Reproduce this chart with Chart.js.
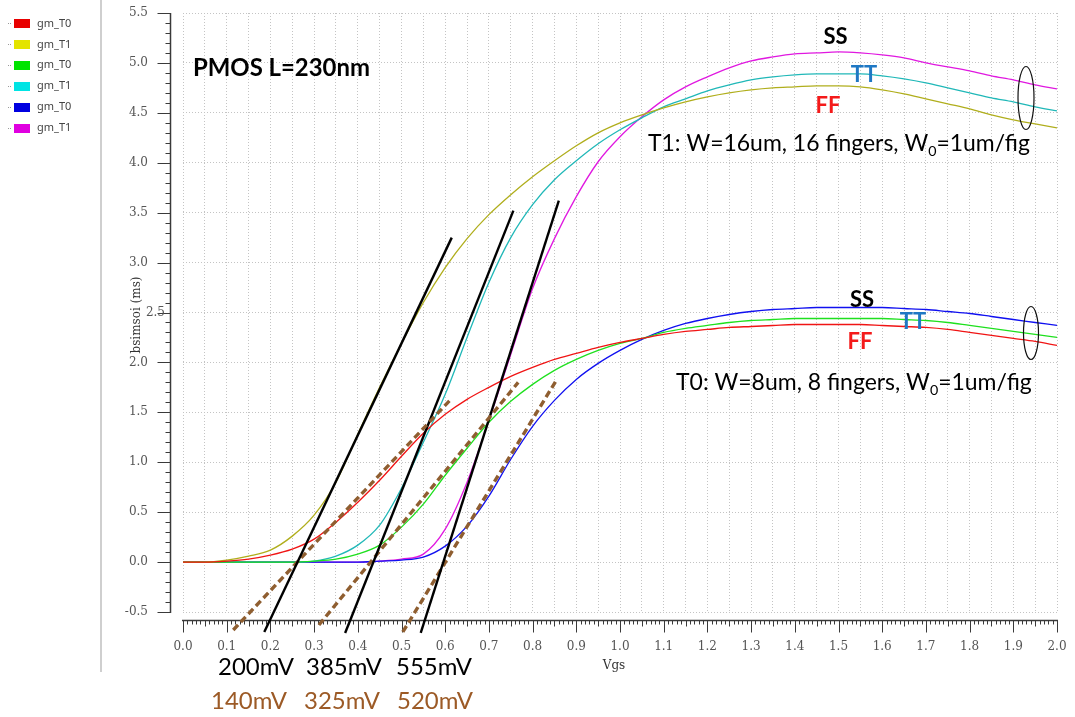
<!DOCTYPE html>
<html><head><meta charset="utf-8">
<script src="https://cdn.jsdelivr.net/npm/chart.js@4.4.0/dist/chart.umd.min.js"></script>
<style>html,body{margin:0;padding:0;background:#fff;overflow:hidden}</style>
</head><body>
<canvas id="c" width="1075" height="717"></canvas>
<script>
// ---- data ----
const vgs = [0.00,0.05,0.10,0.15,0.20,0.25,0.30,0.35,0.40,0.45,0.50,0.55,0.60,0.65,0.70,0.75,0.80,0.85,0.90,0.95,1.00,1.05,1.10,1.15,1.20,1.25,1.30,1.35,1.40,1.45,1.50,1.55,1.60,1.65,1.70,1.75,1.80,1.85,1.90,1.95,2.00];
const gmT0_FF = [0,0,0.01,0.03,0.07,0.13,0.23,0.40,0.60,0.82,1.06,1.29,1.48,1.63,1.75,1.86,1.95,2.03,2.09,2.15,2.20,2.24,2.28,2.31,2.33,2.35,2.36,2.37,2.38,2.38,2.38,2.38,2.37,2.36,2.35,2.33,2.30,2.27,2.24,2.21,2.17];
const gmT1_FF = [0,0,0.02,0.06,0.12,0.26,0.47,0.80,1.28,1.75,2.19,2.60,2.95,3.24,3.48,3.68,3.86,4.02,4.17,4.30,4.40,4.48,4.55,4.61,4.66,4.70,4.73,4.75,4.76,4.77,4.77,4.76,4.73,4.69,4.64,4.59,4.54,4.48,4.43,4.39,4.35];
const gmT0_TT = [0,0,0,0,0,0,0.01,0.03,0.08,0.17,0.35,0.58,0.87,1.14,1.40,1.61,1.78,1.92,2.03,2.12,2.19,2.24,2.30,2.34,2.37,2.40,2.42,2.43,2.44,2.44,2.44,2.44,2.44,2.43,2.42,2.40,2.37,2.34,2.31,2.28,2.25];
const gmT1_TT = [0,0,0,0,0,0,0.01,0.06,0.17,0.37,0.74,1.20,1.68,2.25,2.80,3.25,3.58,3.83,4.02,4.19,4.33,4.45,4.56,4.64,4.72,4.78,4.83,4.86,4.88,4.89,4.89,4.89,4.87,4.84,4.80,4.75,4.70,4.65,4.61,4.56,4.52];
const gmT0_SS = [0,0,0,0,0,0,0,0,0,0.01,0.02,0.05,0.16,0.36,0.66,1.03,1.36,1.62,1.83,1.99,2.12,2.23,2.32,2.39,2.44,2.48,2.51,2.53,2.54,2.55,2.55,2.55,2.55,2.54,2.53,2.51,2.49,2.46,2.43,2.40,2.37];
const gmT1_SS = [0,0,0,0,0,0,0,0,0,0.01,0.03,0.08,0.33,0.80,1.42,2.08,2.74,3.24,3.66,4.01,4.26,4.46,4.63,4.76,4.86,4.95,5.02,5.06,5.09,5.10,5.11,5.10,5.08,5.05,5.00,4.96,4.92,4.87,4.83,4.78,4.74];
const seriesNames = ['gm_T0','gm_T1','gm_T0','gm_T1','gm_T0','gm_T1'];
const seriesData = [gmT0_FF, gmT1_FF, gmT0_TT, gmT1_TT, gmT0_SS, gmT1_SS];
const lineColors = ['#f01414','#b0ae1c','#1ee01e','#20b8b8','#1010f0','#e018e0'];
const legendColors = ['#e80000','#e4e400','#00e400','#00e4e4','#0000e0','#e000e0'];

// tangent lines (Vgs endpoints, gm endpoints)
const solidTanX = [[0.186,0.615],[0.371,0.756],[0.544,0.860]];
const solidTanY = [[-0.70,3.25],[-0.71,3.52],[-0.71,3.62]];
const dashTanX  = [[0.115,0.615],[0.311,0.767],[0.503,0.857]];
const dashTanY  = [[-0.68,1.64],[-0.63,1.80],[-0.70,1.84]];
const solidVthLabels = ['200mV','385mV','555mV'];
const dashVthLabels  = ['140mV','325mV','520mV'];

const xMin = 0, xMax = 2.0, xStep = 0.05;
const yMin = -0.5, yMax = 5.5, yStep = 0.5;

// ---- datasets ----
const datasets = [];
for (let k = 0; k < 3; k++) {
  datasets.push({label:'tan'+k, data: solidTanX[k].map((x,i)=>({x, y: solidTanY[k][i]})),
    borderColor:'#000', borderWidth:2.4, pointRadius:0, clip:false, order:0, tension:0});
  datasets.push({label:'dtan'+k, data: dashTanX[k].map((x,i)=>({x, y: dashTanY[k][i]})),
    borderColor:'#8f5e30', borderWidth:3.4, borderDash:[7,4], pointRadius:0, clip:false, order:0, tension:0});
}
seriesData.forEach((arr, k) => {
  datasets.push({label: seriesNames[k], data: vgs.map((x,i)=>({x, y: arr[i]})),
    borderColor: lineColors[k], borderWidth:1.3, pointRadius:0, order:1, cubicInterpolationMode:'monotone'});
});

function richWidth(ctx, parts, size, weight, family) {
  let w = 0;
  for (const p of parts) { ctx.font = `${weight} ${p.sub ? size*0.62 : size}px ${family}`; w += ctx.measureText(p.t).width; }
  return w;
}
function drawRich(ctx, parts, left, baseline, targetW, weight, family, color) {
  const w0 = richWidth(ctx, parts, 20, weight, family);
  const size = 20 * targetW / w0;
  let x = left;
  ctx.fillStyle = color; ctx.textBaseline = 'alphabetic'; ctx.textAlign = 'left';
  for (const p of parts) {
    const s = p.sub ? size*0.62 : size;
    ctx.font = `${weight} ${s}px ${family}`;
    ctx.fillText(p.t, x, baseline + (p.sub ? size*0.2 : 0));
    x += ctx.measureText(p.t).width;
  }
}
function centered(ctx, t, cx, baseline, size, color) {
  ctx.font = `bold ${size}px Lato`; ctx.fillStyle = color; ctx.textAlign='center'; ctx.textBaseline='alphabetic';
  ctx.fillText(t, cx, baseline);
}

const decor = {
  id:'decor',
  beforeDatasetsDraw(chart) {
    const {ctx, scales:{x, y}} = chart;
    ctx.save();
    ctx.strokeStyle = '#3a3a3a';
    // y axis
    const ax = 170.5;
    ctx.lineWidth = 1.5;
    ctx.beginPath(); ctx.moveTo(ax, y.getPixelForValue(yMax)); ctx.lineTo(ax, y.getPixelForValue(yMin)+1); ctx.stroke();
    ctx.lineWidth = 1;
    for (let i = -5; i <= 55; i++) {
      const py = Math.round(y.getPixelForValue(i/10)) + 0.5;
      const len = (i % 5 === 0) ? 13 : 5;
      ctx.beginPath(); ctx.moveTo(ax - len, py); ctx.lineTo(ax, py); ctx.stroke();
    }
    // y tick labels (from the scale's ticks); the one behind the axis title is nudged right
    ctx.fillStyle = '#555';
    ctx.font = '12px "DejaVu Serif"';
    ctx.textAlign = 'right'; ctx.textBaseline = 'middle';
    y.ticks.forEach(t => {
      const py = y.getPixelForValue(t.value);
      const shift = Math.abs(t.value - 2.5) < 1e-6 ? 17 : 0;
      ctx.fillText(Number(t.value).toFixed(1), 148 + shift, py);
    });
    // x axis
    const ay = 620.5;
    ctx.lineWidth = 1.5;
    ctx.beginPath(); ctx.moveTo(x.getPixelForValue(xMin)-1, ay); ctx.lineTo(x.getPixelForValue(xMax)+1, ay); ctx.stroke();
    ctx.lineWidth = 1;
    for (let i = 0; i <= 200; i++) {
      const px = Math.round(x.getPixelForValue(i/100)) + 0.5;
      const len = (i % 10 === 0) ? 12 : (i % 5 === 0 ? 6 : 4);
      ctx.beginPath(); ctx.moveTo(px, ay); ctx.lineTo(px, ay + len); ctx.stroke();
    }
    // axis titles
    ctx.fillStyle = '#333';
    ctx.font = '12px "DejaVu Serif"';
    ctx.textAlign = 'center'; ctx.textBaseline = 'middle';
    ctx.fillText('Vgs', 614, 666);
    ctx.save(); ctx.translate(137, 315); ctx.rotate(-Math.PI/2); ctx.fillText('bsimsoi (ms)', 0, 0); ctx.restore();
    // left legend panel
    ctx.strokeStyle = '#cfcfcf'; ctx.lineWidth = 2;
    ctx.beginPath(); ctx.moveTo(101, 0); ctx.lineTo(101, 672); ctx.stroke();
    ctx.font = '11px "Noto Sans"'; ctx.textAlign='left'; ctx.textBaseline='middle';
    seriesNames.forEach((n, k) => {
      const cy = 23 + k * 20.9;
      ctx.fillStyle = '#999';
      ctx.fillRect(8, Math.round(cy), 1, 1); ctx.fillRect(10, Math.round(cy), 1, 1);
      ctx.fillStyle = legendColors[k];
      ctx.fillRect(14, Math.round(cy) - 4, 16, 9);
      ctx.fillStyle = '#444';
      ctx.fillText(n, 37, cy + 0.5);
    });
    ctx.restore();
  },
  afterDatasetsDraw(chart) {
    const {ctx} = chart;
    ctx.save();
    // ellipses
    ctx.strokeStyle = '#111'; ctx.lineWidth = 1.2;
    ctx.beginPath(); ctx.ellipse(1026, 98, 8, 31.5, 0, 0, Math.PI*2); ctx.stroke();
    ctx.beginPath(); ctx.ellipse(1031, 333, 7.5, 26.5, 0, 0, Math.PI*2); ctx.stroke();
    // annotations
    drawRich(ctx, [{t:'PMOS L=230nm'}], 193, 76, 177, 'bold', 'Lato', '#000');
    centered(ctx, 'SS', 835.5, 44, 22, '#000');
    centered(ctx, 'TT', 864, 82, 22, '#1f78c4');
    centered(ctx, 'FF', 828, 113, 22, '#f41a1a');
    centered(ctx, 'SS', 862, 306.5, 22, '#000');
    centered(ctx, 'TT', 913, 329, 22, '#1f78c4');
    centered(ctx, 'FF', 860, 348.5, 22, '#f41a1a');
    drawRich(ctx, [{t:'T1: W=16um, 16 fingers, W'},{t:'0',sub:true},{t:'=1um/fig'}], 648, 151, 382, 'normal', 'Lato', '#000');
    drawRich(ctx, [{t:'T0: W=8um, 8 fingers, W'},{t:'0',sub:true},{t:'=1um/fig'}], 676, 390, 356, 'normal', 'Lato', '#000');
    const solidLeft = [218, 306, 396], dashLeft = [211, 304, 397];
    solidVthLabels.forEach((t,i)=> drawRich(ctx, [{t}], solidLeft[i], 675, 76, 'normal', 'Lato', '#000'));
    dashVthLabels.forEach((t,i)=> drawRich(ctx, [{t}], dashLeft[i], 709, 76, 'normal', 'Lato', '#9c5a26'));
    ctx.restore();
  }
};

new Chart(document.getElementById('c'), {
  type:'line',
  data:{datasets},
  options:{
    responsive:false, animation:false, devicePixelRatio:1,
    layout:{padding:{top:13, right:18, left:0, bottom:0}},
    plugins:{legend:{display:false}, tooltip:{enabled:false}},
    scales:{
      x:{type:'linear', min:xMin, max:xMax,
        afterFit(s){ s.height = 105; s.paddingLeft = 0; s.paddingRight = 0; s.paddingTop = 0; s.paddingBottom = 0; },
        grid:{color:'#c4c4c4', lineWidth:1, drawTicks:false},
        border:{display:false, dash:[1,2]},
        ticks:{stepSize:xStep, autoSkip:false, maxRotation:0, minRotation:0, padding:28,
          font:{family:'"DejaVu Serif"', size:12}, color:'#555',
          callback:(v,i)=> (i % 2 === 0) ? Number(v).toFixed(1) : ''}
      },
      y:{type:'linear', min:yMin, max:yMax,
        afterFit(s){ s.width = 183; s.paddingLeft = 0; s.paddingRight = 0; s.paddingTop = 0; s.paddingBottom = 0; },
        grid:{color:'#c4c4c4', lineWidth:1, drawTicks:false},
        border:{display:false, dash:[1,2]},
        ticks:{stepSize:yStep, display:false}
      }
    }
  },
  plugins:[decor]
});
</script>
</body></html>
